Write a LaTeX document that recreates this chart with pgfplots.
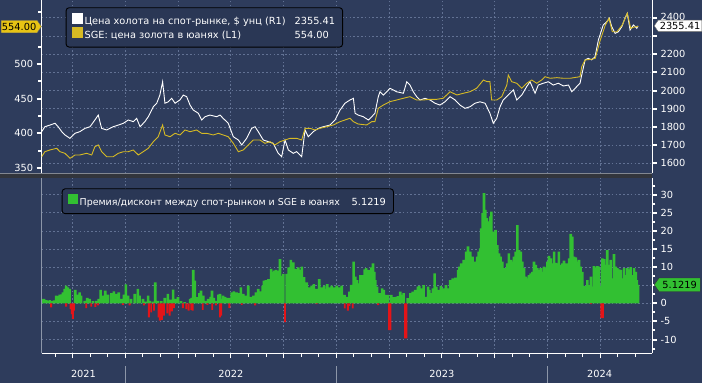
\documentclass[border=0pt]{standalone}
\usepackage{fontspec}
\setmainfont{DejaVu Sans}
\usepackage{pgfplots}
\usepackage{pgfplotstable}
\pgfplotsset{compat=1.18}
\usetikzlibrary{shapes.symbols}
\definecolor{bgc}{RGB}{46,60,92}
\definecolor{legc}{RGB}{42,55,85}
\definecolor{gridc}{RGB}{98,114,148}
\definecolor{goldc}{RGB}{214,186,36}
\definecolor{taggold}{RGB}{232,196,20}
\definecolor{greenc}{RGB}{50,192,50}
\definecolor{redc}{RGB}{228,20,24}
\definecolor{sepc}{RGB}{50,53,60}
\definecolor{sepl}{RGB}{130,135,145}
\definecolor{axgray}{RGB}{140,150,168}
\newcommand{\fs}{\fontsize{9.8pt}{11.5pt}\selectfont}

\pgfplotstableread[row sep=\\]{
x y\\
2021.604 1774\\ 2021.619 1801\\ 2021.643 1810\\ 2021.667 1820\\ 2021.682 1801\\ 2021.699 1774\\
2021.714 1756\\ 2021.738 1737\\ 2021.762 1765\\ 2021.785 1774\\ 2021.809 1792\\ 2021.833 1801\\
2021.856 1838\\ 2021.872 1865\\ 2021.888 1792\\ 2021.912 1783\\ 2021.943 1801\\ 2021.967 1810\\
2021.991 1820\\ 2022.014 1838\\ 2022.038 1829\\ 2022.054 1847\\ 2022.070 1801\\ 2022.093 1829\\
2022.109 1856\\ 2022.133 1911\\ 2022.149 1930\\ 2022.164 1975\\ 2022.177 2048\\ 2022.188 1930\\
2022.204 1938\\ 2022.220 1957\\ 2022.236 1930\\ 2022.259 1948\\ 2022.275 1975\\ 2022.291 1966\\
2022.307 1920\\ 2022.322 1893\\ 2022.346 1875\\ 2022.362 1838\\ 2022.378 1856\\ 2022.401 1865\\
2022.433 1856\\ 2022.449 1865\\ 2022.464 1847\\ 2022.488 1820\\ 2022.512 1746\\ 2022.536 1728\\
2022.552 1701\\ 2022.575 1737\\ 2022.599 1792\\ 2022.615 1801\\ 2022.630 1774\\ 2022.654 1728\\
2022.678 1719\\ 2022.701 1710\\ 2022.725 1655\\ 2022.741 1636\\ 2022.757 1728\\ 2022.773 1673\\
2022.796 1655\\ 2022.812 1664\\ 2022.836 1636\\ 2022.852 1783\\ 2022.867 1746\\ 2022.891 1774\\
2022.915 1792\\ 2022.938 1801\\ 2022.970 1810\\ 2022.994 1838\\ 2023.018 1893\\ 2023.041 1930\\
2023.065 1948\\ 2023.081 1957\\ 2023.089 1875\\ 2023.104 1865\\ 2023.128 1856\\ 2023.152 1838\\
2023.168 1856\\ 2023.183 1875\\ 2023.199 1966\\ 2023.207 1993\\ 2023.223 1975\\ 2023.239 1993\\
2023.254 2012\\ 2023.270 2003\\ 2023.286 1993\\ 2023.318 1985\\ 2023.334 2048\\ 2023.349 2030\\
2023.365 1993\\ 2023.381 1966\\ 2023.397 1948\\ 2023.420 1957\\ 2023.444 1948\\ 2023.468 1930\\
2023.491 1920\\ 2023.515 1938\\ 2023.539 1966\\ 2023.563 1948\\ 2023.586 1920\\ 2023.610 1902\\
2023.634 1911\\ 2023.657 1930\\ 2023.681 1938\\ 2023.705 1930\\ 2023.728 1875\\ 2023.744 1820\\
2023.760 1847\\ 2023.776 1911\\ 2023.791 1948\\ 2023.815 1975\\ 2023.839 2003\\ 2023.855 1948\\
2023.879 1975\\ 2023.902 2021\\ 2023.918 2048\\ 2023.942 1985\\ 2023.957 2030\\ 2023.981 2040\\
2024.005 2048\\ 2024.028 2030\\ 2024.052 2040\\ 2024.076 2025\\ 2024.100 2030\\ 2024.116 1993\\
2024.139 2021\\ 2024.155 2040\\ 2024.163 2085\\ 2024.179 2168\\ 2024.194 2177\\ 2024.210 2168\\
2024.226 2186\\ 2024.242 2278\\ 2024.265 2360\\ 2024.282 2378\\ 2024.294 2397\\ 2024.305 2351\\
2024.321 2314\\ 2024.337 2323\\ 2024.353 2351\\ 2024.368 2397\\ 2024.379 2424\\ 2024.392 2332\\
2024.408 2360\\ 2024.424 2342\\ 2024.430 2355.41\\
}\spot

\pgfplotstableread[row sep=\\]{
x y\\
2021.604 366.4\\ 2021.619 373.6\\ 2021.643 376.1\\ 2021.675 378.5\\ 2021.691 373.6\\ 2021.714 371.3\\
2021.738 364.1\\ 2021.762 368.9\\ 2021.785 368.9\\ 2021.817 371.3\\ 2021.841 368.9\\ 2021.856 380.8\\
2021.872 383.3\\ 2021.888 373.6\\ 2021.912 366.4\\ 2021.943 366.4\\ 2021.967 371.3\\ 2021.991 373.6\\
2022.014 373.6\\ 2022.038 376.1\\ 2022.062 368.9\\ 2022.085 373.6\\ 2022.109 378.5\\ 2022.133 388.0\\
2022.156 395.2\\ 2022.177 412.1\\ 2022.188 397.7\\ 2022.212 395.2\\ 2022.236 400.1\\ 2022.259 397.7\\
2022.283 404.9\\ 2022.307 402.4\\ 2022.338 404.9\\ 2022.362 400.1\\ 2022.386 400.1\\ 2022.417 397.7\\
2022.441 400.1\\ 2022.464 397.7\\ 2022.488 395.2\\ 2022.512 385.7\\ 2022.536 373.6\\ 2022.559 376.1\\
2022.583 383.3\\ 2022.607 390.5\\ 2022.638 390.5\\ 2022.662 385.7\\ 2022.686 388.0\\ 2022.709 383.3\\
2022.733 388.0\\ 2022.757 390.5\\ 2022.781 392.9\\ 2022.812 392.9\\ 2022.836 390.5\\ 2022.852 407.3\\
2022.875 407.3\\ 2022.899 404.9\\ 2022.923 407.3\\ 2022.954 409.6\\ 2022.986 412.1\\ 2023.018 416.9\\
2023.065 421.8\\ 2023.081 416.9\\ 2023.104 413.5\\ 2023.144 412.1\\ 2023.168 416.9\\ 2023.183 416.9\\
2023.199 436.2\\ 2023.223 440.9\\ 2023.254 445.7\\ 2023.286 448.1\\ 2023.318 450.6\\ 2023.349 452.9\\
2023.381 448.1\\ 2023.412 448.1\\ 2023.444 449.1\\ 2023.476 449.1\\ 2023.507 450.6\\ 2023.539 460.1\\
2023.571 455.3\\ 2023.602 457.8\\ 2023.634 460.1\\ 2023.665 465.0\\ 2023.697 476.9\\ 2023.714 474.5\\
2023.728 474.5\\ 2023.736 448.1\\ 2023.760 448.1\\ 2023.784 452.9\\ 2023.808 469.7\\ 2023.815 484.1\\
2023.831 474.5\\ 2023.855 472.2\\ 2023.879 465.0\\ 2023.902 472.2\\ 2023.926 476.9\\ 2023.950 472.2\\
2023.973 476.9\\ 2023.989 481.7\\ 2024.013 479.4\\ 2024.045 480.3\\ 2024.076 479.4\\ 2024.108 479.4\\
2024.155 481.7\\ 2024.163 496.1\\ 2024.179 505.8\\ 2024.209 506.8\\ 2024.227 508.2\\ 2024.251 534.6\\
2024.275 556.2\\ 2024.292 565.9\\ 2024.308 546.5\\ 2024.330 546.5\\ 2024.355 556.2\\ 2024.379 573.1\\
2024.395 551.4\\ 2024.411 553.3\\ 2024.430 554.0\\
}\sge

\pgfplotstableread[row sep=\\]{
x y\\
2021.608 1.2\\ 2021.615 1.2\\ 2021.626 0.9\\ 2021.634 0.7\\ 2021.643 0.9\\ 2021.653 0.6\\ 2021.662 0.8\\
2021.673 2.1\\ 2021.681 2.0\\ 2021.689 2.4\\ 2021.697 2.5\\ 2021.705 3.0\\ 2021.713 4.0\\ 2021.720 4.9\\
2021.728 4.4\\ 2021.736 4.0\\ 2021.763 3.7\\ 2021.773 2.4\\ 2021.784 3.0\\ 2021.791 2.1\\ 2021.808 0.7\\
2021.820 1.5\\ 2021.831 1.2\\ 2021.847 0.6\\ 2021.863 0.7\\ 2021.874 1.2\\ 2021.883 3.7\\ 2021.894 2.1\\
2021.905 3.5\\ 2021.918 2.4\\ 2021.934 2.8\\ 2021.946 3.3\\ 2021.957 2.6\\ 2021.969 3.0\\ 2021.981 1.2\\
2021.994 2.4\\ 2022.003 5.2\\ 2022.013 2.1\\ 2022.028 1.2\\ 2022.045 2.6\\ 2022.060 4.0\\ 2022.068 2.1\\
2022.084 1.2\\ 2022.095 0.5\\ 2022.108 2.1\\ 2022.116 0.7\\ 2022.131 0.5\\ 2022.142 5.8\\ 2022.155 0.7\\
2022.171 0.6\\ 2022.187 1.5\\ 2022.202 2.6\\ 2022.215 1.0\\ 2022.227 3.8\\ 2022.237 1.2\\ 2022.250 1.7\\
2022.265 0.6\\ 2022.282 0.3\\ 2022.307 1.2\\ 2022.315 1.5\\ 2022.322 9.2\\ 2022.330 6.3\\ 2022.338 1.7\\
2022.351 2.8\\ 2022.359 3.5\\ 2022.370 2.1\\ 2022.382 0.7\\ 2022.393 1.2\\ 2022.405 1.8\\ 2022.411 3.5\\
2022.420 1.5\\ 2022.433 0.7\\ 2022.441 2.4\\ 2022.449 2.6\\ 2022.457 1.2\\ 2022.464 2.1\\ 2022.473 1.8\\
2022.483 1.5\\ 2022.496 1.5\\ 2022.504 3.0\\ 2022.515 3.3\\ 2022.528 3.0\\ 2022.540 2.8\\ 2022.548 4.4\\
2022.559 2.6\\ 2022.572 2.1\\ 2022.583 4.9\\ 2022.594 1.8\\ 2022.607 2.1\\ 2022.619 3.0\\ 2022.630 4.0\\
2022.642 3.3\\ 2022.651 4.9\\ 2022.657 6.3\\ 2022.667 6.4\\ 2022.678 6.7\\ 2022.691 9.5\\ 2022.699 8.6\\
2022.706 9.0\\ 2022.714 9.2\\ 2022.720 7.6\\ 2022.725 9.0\\ 2022.733 12.2\\ 2022.741 7.6\\ 2022.749 8.1\\
2022.765 8.1\\ 2022.774 9.9\\ 2022.785 12.0\\ 2022.796 11.3\\ 2022.809 9.5\\ 2022.820 9.9\\ 2022.828 9.2\\
2022.837 10.1\\ 2022.847 7.2\\ 2022.860 5.8\\ 2022.872 4.4\\ 2022.883 4.9\\ 2022.894 5.3\\ 2022.907 4.0\\
2022.919 6.7\\ 2022.931 4.4\\ 2022.942 4.9\\ 2022.951 4.0\\ 2022.957 5.3\\ 2022.970 4.4\\ 2022.978 4.9\\
2022.989 4.4\\ 2023.002 4.9\\ 2023.014 4.4\\ 2023.026 4.9\\ 2023.039 2.3\\ 2023.051 1.8\\ 2023.062 3.2\\
2023.071 5.1\\ 2023.082 11.5\\ 2023.090 7.4\\ 2023.098 6.4\\ 2023.106 5.5\\ 2023.114 7.8\\ 2023.125 7.8\\
2023.135 9.4\\ 2023.141 9.7\\ 2023.150 9.2\\ 2023.156 9.2\\ 2023.166 9.9\\ 2023.174 11.0\\ 2023.180 8.7\\
2023.185 6.4\\ 2023.193 4.6\\ 2023.204 2.8\\ 2023.217 4.1\\ 2023.225 3.7\\ 2023.236 2.3\\ 2023.245 2.3\\
2023.261 2.3\\ 2023.272 1.7\\ 2023.283 1.8\\ 2023.292 2.0\\ 2023.303 3.2\\ 2023.311 2.3\\ 2023.319 2.8\\
2023.338 1.4\\ 2023.351 2.8\\ 2023.362 3.2\\ 2023.374 3.7\\ 2023.387 4.6\\ 2023.393 4.8\\ 2023.403 4.1\\
2023.414 5.0\\ 2023.425 1.8\\ 2023.435 4.6\\ 2023.441 3.7\\ 2023.450 2.8\\ 2023.458 4.1\\ 2023.466 8.3\\
2023.474 4.6\\ 2023.485 3.7\\ 2023.496 4.8\\ 2023.509 4.1\\ 2023.520 5.0\\ 2023.529 4.1\\ 2023.540 6.4\\
2023.552 6.9\\ 2023.564 7.1\\ 2023.577 9.2\\ 2023.583 10.1\\ 2023.592 11.0\\ 2023.604 12.0\\ 2023.615 14.3\\
2023.624 15.7\\ 2023.635 14.3\\ 2023.646 12.9\\ 2023.656 11.5\\ 2023.667 12.9\\ 2023.675 14.3\\ 2023.682 15.2\\
2023.687 20.7\\ 2023.694 24.9\\ 2023.700 30.4\\ 2023.706 25.8\\ 2023.713 23.5\\ 2023.719 22.1\\ 2023.725 22.6\\
2023.730 24.0\\ 2023.735 25.3\\ 2023.741 18.4\\ 2023.747 19.8\\ 2023.755 20.3\\ 2023.763 16.1\\ 2023.771 13.8\\
2023.779 12.9\\ 2023.787 11.5\\ 2023.795 9.7\\ 2023.803 9.7\\ 2023.810 11.0\\ 2023.818 13.8\\ 2023.827 12.0\\
2023.834 11.5\\ 2023.842 12.9\\ 2023.850 14.3\\ 2023.858 21.6\\ 2023.866 14.7\\ 2023.874 14.3\\ 2023.882 11.5\\
2023.890 9.7\\ 2023.898 7.4\\ 2023.905 6.9\\ 2023.913 7.8\\ 2023.921 8.3\\ 2023.929 8.7\\ 2023.937 11.5\\
2023.945 10.6\\ 2023.953 9.7\\ 2023.961 9.2\\ 2023.969 9.7\\ 2023.976 8.7\\ 2023.984 10.1\\ 2023.992 9.9\\
2024.000 11.5\\ 2024.008 13.1\\ 2024.016 12.4\\ 2024.024 11.0\\ 2024.032 14.3\\ 2024.040 11.2\\ 2024.047 11.0\\
2024.055 14.3\\ 2024.064 10.6\\ 2024.071 11.0\\ 2024.079 11.8\\ 2024.087 11.0\\ 2024.095 11.0\\ 2024.103 12.4\\
2024.111 19.2\\ 2024.118 18.4\\ 2024.127 12.9\\ 2024.135 12.7\\ 2024.142 11.5\\ 2024.150 12.0\\ 2024.158 10.1\\
2024.166 8.7\\ 2024.174 4.8\\ 2024.182 4.8\\ 2024.190 6.4\\ 2024.198 5.0\\ 2024.206 7.4\\ 2024.213 4.6\\
2024.221 10.3\\ 2024.229 9.9\\ 2024.237 10.3\\ 2024.245 10.1\\ 2024.253 4.8\\ 2024.261 12.4\\ 2024.269 12.2\\
2024.277 10.6\\ 2024.284 14.7\\ 2024.292 10.6\\ 2024.300 12.0\\ 2024.308 6.9\\ 2024.316 13.6\\ 2024.324 10.1\\
2024.332 9.7\\ 2024.340 9.4\\ 2024.348 9.2\\ 2024.355 6.9\\ 2024.364 9.7\\ 2024.372 7.8\\ 2024.379 9.7\\
2024.387 9.4\\ 2024.395 10.0\\ 2024.403 7.8\\ 2024.411 9.7\\ 2024.419 8.7\\ 2024.424 6.4\\ 2024.430 5.1219\\
}\prem

\pgfplotstableread[row sep=\\]{
x y\\
2021.649 -1.1\\ 2021.720 -0.9\\ 2021.741 -1.6\\ 2021.747 -3.0\\ 2021.752 -4.3\\ 2021.757 -2.0\\
2021.815 -1.3\\ 2021.839 -0.9\\ 2021.858 -1.0\\ 2021.871 -0.6\\ 2021.989 -0.4\\ 2022.021 -0.6\\
2022.089 -0.6\\ 2022.112 -3.9\\ 2022.123 -2.5\\ 2022.136 -2.0\\ 2022.158 -3.9\\ 2022.164 -4.8\\
2022.174 -4.6\\ 2022.183 -3.4\\ 2022.199 -2.8\\ 2022.210 -3.4\\ 2022.221 -2.2\\ 2022.231 -1.3\\
2022.273 -1.3\\ 2022.289 -1.6\\ 2022.300 -2.0\\ 2022.313 -1.8\\ 2022.319 -2.0\\ 2022.367 -1.8\\
2022.389 -0.4\\ 2022.412 -1.8\\ 2022.430 -0.6\\ 2022.449 -3.9\\ 2022.454 -3.4\\ 2022.493 -1.3\\
2022.552 -0.4\\ 2022.615 -0.6\\ 2022.757 -5.2\\ 2022.907 -0.2\\ 2023.040 -1.4\\ 2023.055 -2.0\\
2023.062 -0.7\\ 2023.078 -1.4\\ 2023.198 -0.5\\ 2023.250 -7.4\\ 2023.256 -7.4\\ 2023.326 -9.7\\
2023.332 -9.7\\ 2024.206 -0.2\\ 2024.256 -4.1\\ 2024.263 -4.1\\
}\disc

\pgfplotsset{
  bbg/.style={
    scale only axis, width=610.3pt,
    xmin=2021.604, xmax=2024.496,
    /pgf/number format/assume math mode=true,
    /pgf/number format/1000 sep={},
    tick label style={font=\fs, text=white},
    grid style={gridc, line width=0.6pt, dash pattern=on 1.6pt off 2.2pt},
    major tick length=5pt, minor tick length=3.5pt,
    legend image code/.code={\fill[##1, sharp corners] (0pt,-1.5pt) rectangle (10pt,8.5pt);},
    clip mode=individual,
    legend cell align=left,
  },
  qtr/.style={xtick={2021.75,2022,2022.25,2022.5,2022.75,2023,2023.25,2023.5,2023.75,2024,2024.25}},
}

\begin{document}
\begin{tikzpicture}[x=1pt,y=1pt]
\useasboundingbox (0pt,0pt) rectangle (702pt,383pt);
\fill[bgc] (0pt,0pt) rectangle (702pt,383pt);

% ---------- top panel, right axis (spot, white) ----------
\begin{axis}[bbg, qtr, at={(41.7pt,209.5pt)}, anchor=south west, height=173.5pt,
  ymin=1544, ymax=2497.3,
  axis y line*=right, axis x line*=bottom,
  x axis line style={draw=none}, xticklabels={}, xtick style={draw=none},
  xmajorgrids, ymajorgrids,
  ytick={1600,1700,1800,1900,2000,2100,2200,2300,2400},
  yticklabels={1600,1700,1800,1900,2000,2100,2200,{},\raisebox{2.2pt}{2400}},
  ytick align=outside,
  y axis line style={white, line width=0.9pt},
  ytick style={white, line width=2pt},
]
\addplot[white, line width=0.9pt, forget plot] table[x=x,y=y] {\spot};
\node[signal, signal to=west, signal pointer angle=110, fill=white, draw=black!60, text=black, font=\fs,
  inner xsep=1.5pt, inner ysep=0.8pt, minimum height=11.5pt, anchor=west]
  at ([xshift=2pt]axis cs:2024.496,2355.41) {2355.41};
\end{axis}

% ---------- top panel, left axis (SGE, yellow) ----------
\begin{axis}[bbg, at={(41.7pt,209.5pt)}, anchor=south west, height=173.5pt,
  ymin=342.2, ymax=592.2,
  axis y line*=left, axis x line*=bottom,
  x axis line style={draw=none}, xtick=\empty,
  ytick={350,400,450,500}, minor ytick={375,425,475,525,575},
  ytick align=outside,
  y axis line style={white, line width=0.9pt},
  ytick style={white, line width=2pt},
  minor tick style={white, line width=1pt},
  legend style={at={(axis description cs:0.0393,0.958)}, anchor=north west,
    fill=legc, draw=black, line width=0.9pt, rounded corners=3pt, text=white, font=\fs,
    inner xsep=5.5pt, inner ysep=5pt, row sep=-1.5pt},
]
\addlegendimage{white, line width=0.9pt}
\addlegendentry{\makebox[210pt][l]{Цена холота на спот-рынке, \$ унц (R1)}2355.41}
\addplot[goldc, line width=0.9pt] table[x=x,y=y] {\sge};
\addlegendentry{\makebox[210pt][l]{SGE: цена золота в юанях (L1)}554.00}
\node[signal, signal to=east, signal pointer angle=110, fill=taggold, draw=black!60, text=black, font=\fs,
  inner xsep=0.8pt, inner ysep=1.2pt, minimum height=12.5pt, anchor=east]
  at (axis cs:2021.604,554) {554.00};
\end{axis}

% ---------- separator ----------
\fill[sepc] (0pt,205pt) rectangle (652pt,209.5pt);
\draw[sepl, line width=0.8pt] (0pt,209.1pt) -- (652pt,209.1pt);

% ---------- bottom panel ----------
\begin{axis}[bbg, qtr, at={(41.7pt,29.7pt)}, anchor=south west, height=175.3pt,
  ymin=-13.8, ymax=34.6,
  axis y line*=right, axis x line*=bottom,
  x axis line style={white, line width=0.9pt},
  xticklabels={},
  minor xtick={2021.6667,2021.8333,2021.9167,2022.0833,2022.1667,2022.3333,2022.4167,2022.5833,2022.6667,2022.8333,2022.9167,2023.0833,2023.1667,2023.3333,2023.4167,2023.5833,2023.6667,2023.8333,2023.9167,2024.0833,2024.1667,2024.3333,2024.4167},
  minor ytick={-12.5,-7.5,-2.5,2.5,7.5,12.5,17.5,22.5,27.5,32.5},
  xtick align=outside,
  xtick style={white, line width=0.8pt},
  minor tick style={white, line width=0.8pt},
  xmajorgrids, ymajorgrids,
  ytick={-10,-5,0,5,10,15,20,25,30},
  yticklabels={-10,-5,0,{},10,15,20,25,30},
  ytick align=outside,
  y axis line style={white, line width=0.9pt},
  ytick style={white, line width=2pt},
  extra x ticks={2021.802,2022.5,2023.5,2024.248},
  extra x tick labels={2021,2022,2023,2024},
  extra x tick style={grid=none, tick style={draw=none}, xticklabel style={yshift=-8pt}},
  legend style={at={(axis description cs:0.0328,0.941)}, anchor=north west,
    fill=legc, draw=black, line width=0.9pt, rounded corners=3pt, text=white, font=\fs,
    inner xsep=5.5pt, inner ysep=5pt},
]
\addlegendimage{fill=greenc, draw=none}
\addlegendentry{\makebox[272pt][l]{\fontsize{9.45pt}{11.5pt}\selectfont Премия/дисконт между спот-рынком и SGE в юанях}5.1219}
\addplot[ybar, bar shift=0pt, bar width=2.6pt, fill=greenc, draw=none, forget plot] table[x=x,y=y] {\prem};
\addplot[ybar, bar shift=0pt, bar width=1.9pt, fill=redc, draw=none, forget plot] table[x=x,y=y] {\disc};
\draw[axgray, line width=0.8pt] (rel axis cs:0,0) -- (rel axis cs:0,1);
\draw[axgray, line width=0.8pt] (axis cs:2022,-13.8) ++(0pt,-13pt) -- ++(0pt,-17pt);
\draw[axgray, line width=0.8pt] (axis cs:2023,-13.8) ++(0pt,-13pt) -- ++(0pt,-17pt);
\draw[axgray, line width=0.8pt] (axis cs:2024,-13.8) ++(0pt,-13pt) -- ++(0pt,-17pt);
\node[signal, signal to=west, signal pointer angle=110, fill=greenc, draw=black!80, text=black, font=\fs,
  inner xsep=1.5pt, inner ysep=1.2pt, minimum height=13.5pt, minimum width=46pt, anchor=west]
  at ([xshift=2pt]axis cs:2024.496,5.1219) {5.1219};
\end{axis}
\end{tikzpicture}
\end{document}
